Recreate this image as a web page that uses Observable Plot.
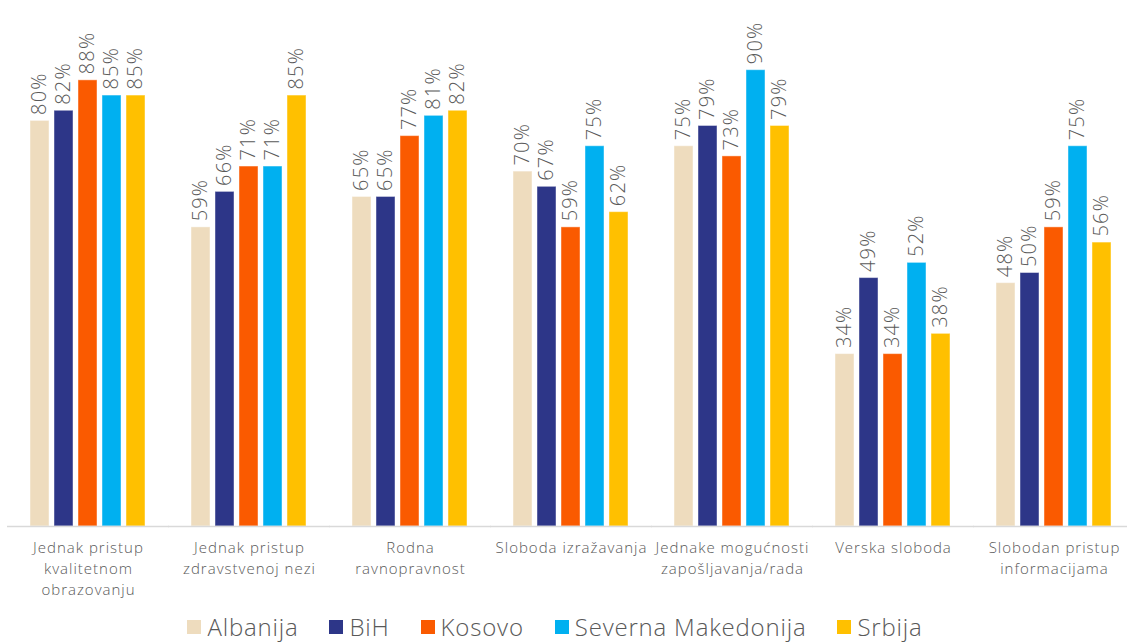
<!DOCTYPE html>
<html><head><meta charset="utf-8">
<script src="https://cdn.jsdelivr.net/npm/d3@7"></script>
<script src="https://cdn.jsdelivr.net/npm/@observablehq/plot@0.6"></script>
<style>
body{margin:0;background:#fff;font-family:"Open Sans",sans-serif;}
#chart svg{display:block;}
g[aria-label="text"] text{letter-spacing:1.2px;}
g[aria-label="fx-axis tick label"] text{letter-spacing:1px;}
#legend{display:flex;justify-content:center;align-items:center;height:37px;padding-top:3px;margin-left:-17px;font-size:24px;font-weight:300;line-height:1;color:#595959;letter-spacing:0.8px;white-space:nowrap;}
#legend .item{display:flex;align-items:center;margin:0 15.5px;}
#legend .sw{width:14px;height:14px;margin-right:6px;}
</style></head><body>
<div id="chart"></div>
<div id="legend"></div>
<script>
const categories = [
  "Jednak pristup\nkvalitetnom\nobrazovanju",
  "Jednak pristup\nzdravstvenoj nezi",
  "Rodna\nravnopravnost",
  "Sloboda izražavanja",
  "Jednake mogućnosti\nzapošljavanja/rada",
  "Verska sloboda",
  "Slobodan pristup\ninformacijama"
];
const series = ["Albanija", "BiH", "Kosovo", "Severna Makedonija", "Srbija"];
const colors = ["#EEDCBE", "#2D3688", "#FA5A00", "#00B0F0", "#FFC000"];
const albanija   = [80, 59, 65, 70, 75, 34, 48];
const bih        = [82, 66, 65, 67, 79, 49, 50];
const kosovo     = [88, 71, 77, 59, 73, 34, 59];
const makedonija = [85, 71, 81, 75, 90, 52, 75];
const srbija     = [85, 85, 82, 62, 79, 38, 56];

const valuesBySeries = [albanija, bih, kosovo, makedonija, srbija];
const data = [];
categories.forEach((c, i) => {
  series.forEach((s, j) => data.push({category: c, series: s, value: valuesBySeries[j][i]}));
});

const chart = Plot.plot({
  width: 1127,
  height: 605,
  marginTop: 19,
  marginBottom: 79,
  marginLeft: 0,
  marginRight: 0,
  style: {fontFamily: "'Open Sans', sans-serif", background: "#fff"},
  fx: {domain: categories, range: [6.5, 1134.9], paddingInner: 0.268, paddingOuter: 0.134, label: null},
  x: {domain: series, paddingInner: 0.2, paddingOuter: 0, axis: null},
  y: {domain: [0, 100], axis: null},
  color: {domain: series, range: colors},
  marks: [
    Plot.barY(data, {fx: "category", x: "series", y: "value", fill: "series", stroke: "#fff", strokeOpacity: 0.45, strokeWidth: 1}),
    Plot.ruleY([0], {stroke: "#d9d9d9", strokeWidth: 1.5, insetLeft: -22, insetRight: -22}),
    Plot.text(data, {fx: "category", x: "series", y: "value", text: d => d.value + "%", rotate: -90, textAnchor: "start", dy: -6, fontSize: 20, fontWeight: 300, fill: "#595959"}),
    Plot.axisFx({anchor: "bottom", tickSize: 0, tickPadding: 12, fontSize: 15, fontWeight: 300, fill: "#595959", lineHeight: 1.4, label: null})
  ]
});
document.getElementById("chart").appendChild(chart);

const legend = document.getElementById("legend");
series.forEach((s, j) => {
  const item = document.createElement("div");
  item.className = "item";
  const sw = document.createElement("span");
  sw.className = "sw";
  sw.style.background = colors[j];
  const t = document.createElement("span");
  t.textContent = s;
  item.appendChild(sw);
  item.appendChild(t);
  legend.appendChild(item);
});
</script>
</body></html>
